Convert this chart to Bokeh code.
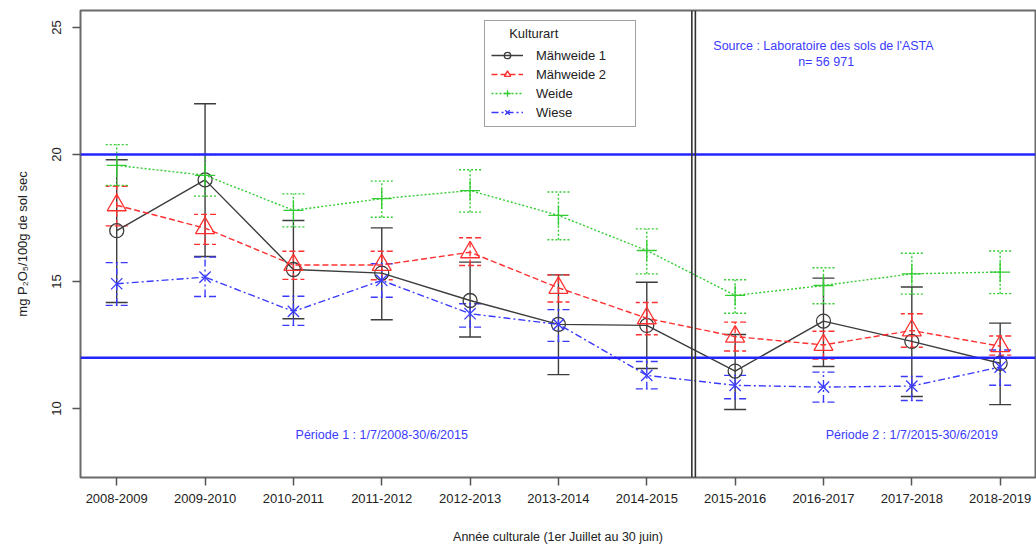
from bokeh.plotting import figure
from bokeh.models import (Range1d, FixedTicker, Span, Label, Legend, LegendItem,
                          Whisker, TeeHead, ColumnDataSource)
from bokeh.embed import file_html
from bokeh.resources import INLINE

# Crop years (1 July - 30 June)
years = ["2008-2009", "2009-2010", "2010-2011", "2011-2012", "2012-2013",
         "2013-2014", "2014-2015", "2015-2016", "2016-2017", "2017-2018",
         "2018-2019"]

# Mean P2O5 content (mg / 100 g dry soil) with confidence bounds per crop type
maehweide1 = [17.0, 19.0, 15.47, 15.33, 14.25, 13.31, 13.27, 11.47, 13.44, 12.64, 11.78]
maehweide1_lo = [14.17, 15.98, 13.53, 13.49, 12.81, 11.33, 11.57, 9.96, 11.65, 10.47, 10.15]
maehweide1_hi = [19.79, 22.0, 17.4, 17.11, 15.76, 15.26, 14.97, 12.91, 15.13, 14.78, 13.36]

maehweide2 = [18.0, 17.1, 15.65, 15.65, 16.15, 14.75, 13.55, 12.83, 12.5, 13.07, 12.45]
maehweide2_lo = [17.19, 16.46, 15.08, 15.07, 15.63, 14.19, 12.9, 12.26, 11.94, 12.41, 12.1]
maehweide2_hi = [18.75, 17.64, 16.19, 16.19, 16.72, 15.26, 14.17, 13.4, 13.04, 13.73, 12.85]

weide = [19.57, 19.18, 17.8, 18.26, 18.58, 17.6, 16.22, 14.45, 14.84, 15.3, 15.37]
weide_lo = [18.78, 18.36, 17.15, 17.53, 17.73, 16.64, 15.3, 13.75, 14.12, 14.5, 14.52]
weide_hi = [20.39, 20.0, 18.45, 18.95, 19.4, 18.52, 17.07, 15.07, 15.54, 16.11, 16.2]

wiese = [14.91, 15.17, 13.82, 15.04, 13.73, 13.31, 11.3, 10.91, 10.84, 10.88, 11.63]
wiese_lo = [14.06, 14.41, 13.27, 14.38, 13.2, 12.64, 10.77, 10.38, 10.25, 10.31, 10.91]
wiese_hi = [15.74, 15.96, 14.42, 15.7, 14.12, 13.89, 11.85, 11.3, 11.43, 11.26, 12.3]

# Target band and period boundary
band_limits = [12, 20]
period_split = 6.5
y_ticks = [10, 15, 20, 25]

FONT = "Liberation Sans"
TEXT_BLUE = "#3b3bff"

p = figure(width=1036, height=548, output_backend="svg", toolbar_location=None,
           x_range=Range1d(-0.41, 10.40), y_range=Range1d(7.28, 25.67),
           min_border_left=80, min_border_right=1, min_border_top=10,
           min_border_bottom=71)

p.xgrid.visible = False
p.ygrid.visible = False
p.outline_line_color = "#6a6a6a"
p.outline_line_width = 2
p.background_fill_color = "white"
p.border_fill_color = "white"

p.xaxis.ticker = FixedTicker(ticks=list(range(len(years))))
p.xaxis.major_label_overrides = {i: y for i, y in enumerate(years)}
p.yaxis.ticker = FixedTicker(ticks=y_ticks)
p.yaxis.major_label_orientation = "vertical"

for ax in (p.xaxis[0], p.yaxis[0]):
    ax.axis_line_color = None
    ax.major_tick_in = 0
    ax.major_tick_out = 8
    ax.major_tick_line_color = "#555555"
    ax.major_tick_line_width = 1.5
    ax.minor_tick_line_color = None
    ax.major_label_text_font = FONT
    ax.major_label_text_font_size = "13px"
    ax.major_label_text_color = "#222222"
    ax.axis_label_text_font = FONT
    ax.axis_label_text_font_style = "normal"
    ax.axis_label_text_color = "#222222"

p.xaxis.major_label_standoff = 8
p.xaxis.axis_label = "Année culturale (1er Juillet au 30 juin)"
p.xaxis.axis_label_text_font_size = "12.5px"
p.xaxis.axis_label_standoff = 24
p.yaxis.major_label_standoff = 11
p.yaxis.axis_label = "mg P₂O₅/100g de sol sec"
p.yaxis.axis_label_text_font_size = "13px"
p.yaxis.axis_label_standoff = 20

# Reference band lines and period separator
for lim in band_limits:
    p.add_layout(Span(location=lim, dimension="width", line_color="#2424ff",
                      line_width=2.5))
for off in (0.01, 0.05):
    p.add_layout(Span(location=period_split + off, dimension="height",
                      line_color="#333333", line_width=1.6))

x = list(range(len(years)))
series = [
    ("Mähweide 1", maehweide1, maehweide1_lo, maehweide1_hi, "#3c3c3c", "solid", "circle", 14),
    ("Mähweide 2", maehweide2, maehweide2_lo, maehweide2_hi, "#ff3030", "6 3", "triangle", 19),
    ("Weide", weide, weide_lo, weide_hi, "#33cc33", "2 2", "cross", 20),
    ("Wiese", wiese, wiese_lo, wiese_hi, "#3a3aff", "7 3 2 3", "x", 16),
]

items = []
for name, mean, lo, hi, color, dash, marker, size in series:
    src = ColumnDataSource(dict(x=x, y=mean, lo=lo, hi=hi))
    head_kw = dict(size=22, line_color=color, line_width=1.4, line_dash=dash)
    p.add_layout(Whisker(source=src, base="x", lower="lo", upper="hi",
                         line_color=color, line_width=1.4, line_dash=dash,
                         lower_head=TeeHead(**head_kw),
                         upper_head=TeeHead(**head_kw)))
    ln = p.line("x", "y", source=src, line_color=color, line_width=1.4,
                line_dash=dash)
    mk = p.scatter("x", "y", source=src, marker=marker, size=size,
                   fill_color=None, line_color=color, line_width=1.3)
    items.append(LegendItem(label=name, renderers=[ln, mk]))

# Legend title space is reserved here; the centred title is drawn as a label
legend = Legend(items=items, title="Kulturart", location=(404, 350),
                padding=6, spacing=3, glyph_width=32, glyph_height=16,
                label_standoff=13, label_width=93,
                label_text_font=FONT, label_text_font_size="13px",
                label_text_color="#222222",
                title_text_font=FONT, title_text_font_size="13px",
                title_text_font_style="normal", title_text_alpha=0.0,
                title_standoff=5,
                border_line_color="#444444", border_line_width=1.5,
                background_fill_color="white", background_fill_alpha=0.0)
p.add_layout(legend, "center")
p.add_layout(Label(x=4.72, y=24.76, text="Kulturart", text_font=FONT,
                   text_font_size="13px", text_color="#222222",
                   text_align="center", text_baseline="middle"))

# Annotations
label_kw = dict(text_font=FONT, text_font_size="12.5px", text_color=TEXT_BLUE,
                text_align="center", text_baseline="middle")
p.add_layout(Label(x=3, y=8.94, text="Période 1 : 1/7/2008-30/6/2015", **label_kw))
p.add_layout(Label(x=9, y=8.94, text="Période 2 : 1/7/2015-30/6/2019", **label_kw))
p.add_layout(Label(x=8.0, y=24.29, text="Source : Laboratoire des sols de l'ASTA", **label_kw))
p.add_layout(Label(x=8.03, y=23.63, text="n= 56 971", **label_kw))

open("out.html", "w").write(file_html(p, INLINE))
